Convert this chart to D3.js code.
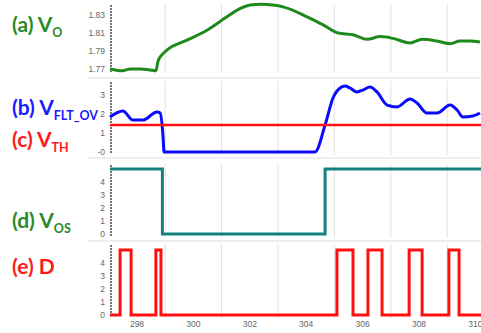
<!DOCTYPE html>
<html>
<head>
<meta charset="utf-8">
<script src="https://cdn.jsdelivr.net/npm/d3@7"></script>
<style>
    body { margin: 0; background: #fff; }
    svg { display: block; }
    .tick-label { font-family: "Liberation Sans", Arial, sans-serif; font-size: 8.5px; fill: #666; }
    .panel-label { font-family: Lato, "Open Sans", sans-serif; font-weight: bold; font-size: 21px; }
</style>
</head>
<body>
<div id="chart"></div>
<script>
// (a) output voltage
const tA = [297.04, 297.22, 297.47, 297.77, 298.11, 298.46, 298.67, 298.74, 298.89, 299.06, 299.77, 300.48,
    301.19, 301.65, 302.01, 302.43, 302.82, 303.18, 304.03, 304.6, 305.13, 305.66, 306.16, 306.62,
    307.08, 307.68, 308.11, 308.64, 309.11, 309.45, 309.81, 310.16];
const vA = [1.770, 1.769, 1.768, 1.770, 1.770, 1.769, 1.768, 1.778, 1.786, 1.791, 1.802, 1.813,
    1.828, 1.837, 1.841, 1.842, 1.841, 1.839, 1.828, 1.819, 1.810, 1.808, 1.803, 1.806,
    1.804, 1.799, 1.803, 1.801, 1.798, 1.801, 1.801, 1.800];

// (b) filtered overshoot voltage
const tB = [297.04, 297.5, 297.86, 298.21, 298.71, 298.82, 298.92, 298.96, 304.31, 304.67, 304.95, 305.2,
    305.38, 305.55, 305.8, 306.01, 306.26, 306.51, 306.87, 307.22, 307.68, 307.93, 308.28, 308.64,
    309.1, 309.35, 309.56, 309.91, 310.16];
const vB = [1.84, 2.16, 1.68, 1.68, 2.11, 2.05, 0.89, 0, 0, 1.42, 2.84, 3.37,
    3.47, 3.37, 3.16, 3.26, 3.42, 3.16, 2.47, 2.37, 2.79, 2.58, 2.05, 2.05,
    2.47, 2.21, 1.84, 1.89, 2.05];

// (c) threshold
const vTH = 1.42;

// (d) overshoot flag (step after)
const tOS = [297.04, 298.9, 304.67, 310.2];
const vOS = [5, 0, 5, 5];

// (e) D pulses
const dRise = [297.40, 298.67, 305.09, 306.19, 307.65, 309.06];
const dFall = [297.79, 298.85, 305.66, 306.69, 308.11, 309.42];
const dHigh = 5;

const xTicks = [298, 300, 302, 304, 306, 308, 310];
const xGrid = [299, 301, 303, 305, 307, 309];
const ticksA = [1.77, 1.79, 1.81, 1.83];
const ticksB = ["-0", "1", "2", "3"];
const ticks5 = [0, 1, 2, 3, 4];

const width = 481, height = 333;
const svg = d3.select("#chart").append("svg").attr("width", width).attr("height", height);

const x = d3.scaleLinear().domain([298, 310]).range([137, 475.4]);
const x0 = 297.04, x1 = 310.2;

const yA = d3.scaleLinear().domain([1.77, 1.83]).range([69, 15]);
const yB = d3.scaleLinear().domain([0, 3]).range([152, 95]);
const yD = d3.scaleLinear().domain([0, 4]).range([234, 182]);
const yE = d3.scaleLinear().domain([0, 4]).range([315, 263]);

// panel bands (pixel) for gridlines / axis lines
const bands = [[4, 73], [81, 155], [164, 238], [244, 318]];
const seps = [78, 158, 241];

// separators
svg.selectAll(".sep").data(seps).join("line")
    .attr("x1", 88).attr("x2", width)
    .attr("y1", d => d).attr("y2", d => d)
    .attr("stroke", "#ddd").attr("stroke-width", 1);

// vertical gridlines
bands.forEach(b => {
    svg.append("g").selectAll("line").data(xGrid).join("line")
        .attr("x1", d => x(d)).attr("x2", d => x(d))
        .attr("y1", b[0]).attr("y2", b[1])
        .attr("stroke", "#e2e2e2").attr("stroke-width", 1);
});

// y axis lines (dashed look)
bands.forEach(b => {
    svg.append("line")
        .attr("x1", 111).attr("x2", 111)
        .attr("y1", b[0] + 1).attr("y2", b[1] - 1)
        .attr("stroke", "#666").attr("stroke-width", 1.8)
        .attr("stroke-dasharray", "2,1");
});

// y tick labels
function yLabels(scale, values, texts) {
    svg.append("g").selectAll("text").data(values).join("text")
        .attr("class", "tick-label")
        .attr("x", 105).attr("y", d => scale(d) + 3)
        .attr("text-anchor", "end")
        .text((d, i) => texts ? texts[i] : d);
}
yLabels(yA, ticksA, ticksA.map(d => d.toFixed(2)));
yLabels(yB, [0, 1, 2, 3], ticksB);
yLabels(yD, ticks5);
yLabels(yE, ticks5);

// x tick labels
svg.append("g").selectAll("text").data(xTicks).join("text")
    .attr("class", "tick-label")
    .attr("x", d => x(d)).attr("y", 327)
    .attr("text-anchor", "middle")
    .text(d => d);

// lines
const lineA = d3.line().x((d, i) => x(tA[i])).y(d => yA(d)).curve(d3.curveMonotoneX);
svg.append("path").attr("d", lineA(vA))
    .attr("fill", "none").attr("stroke", "#1e8a1e").attr("stroke-width", 3);

const lineB = d3.line().x((d, i) => x(tB[i])).y(d => yB(d)).curve(d3.curveMonotoneX);
svg.append("path").attr("d", lineB(vB))
    .attr("fill", "none").attr("stroke", "#0a0aff").attr("stroke-width", 3).attr("stroke-linejoin", "round");

svg.append("line")
    .attr("x1", x(x0)).attr("x2", width)
    .attr("y1", yB(vTH)).attr("y2", yB(vTH))
    .attr("stroke", "#ff1010").attr("stroke-width", 2.5);

const lineD = d3.line().x((d, i) => x(tOS[i])).y(d => yD(d)).curve(d3.curveStepAfter);
svg.append("path").attr("d", lineD(vOS))
    .attr("fill", "none").attr("stroke", "#158080").attr("stroke-width", 3);

// build D series from pulse edges
const tD = [x0], vD = [0];
dRise.forEach((r, i) => {
    tD.push(r, dFall[i]);
    vD.push(dHigh, 0);
});
tD.push(x1); vD.push(0);
const lineE = d3.line().x((d, i) => x(tD[i])).y(d => yE(d)).curve(d3.curveStepAfter);
svg.append("path").attr("d", lineE(vD))
    .attr("fill", "none").attr("stroke", "#ff1010").attr("stroke-width", 3);

// left labels
const labels = [
    {main: "(a) V", sub: "O", y: 32, color: "#2a8a2a"},
    {main: "(b) V", sub: "FLT_OV", y: 115, color: "#1a1aff"},
    {main: "(c) V", sub: "TH", y: 147, color: "#ff1a1a"},
    {main: "(d) V", sub: "OS", y: 228, color: "#2a8a2a"},
    {main: "(e) D", sub: "", y: 274, color: "#ff1a1a"}
];
labels.forEach(l => {
    const t = svg.append("text").attr("class", "panel-label")
        .attr("x", 12).attr("y", l.y).attr("fill", l.color);
    t.append("tspan").text(l.main);
    if (l.sub) t.append("tspan").attr("dy", 5).attr("font-size", "12.5px").text(l.sub);
});
</script>
</body>
</html>
